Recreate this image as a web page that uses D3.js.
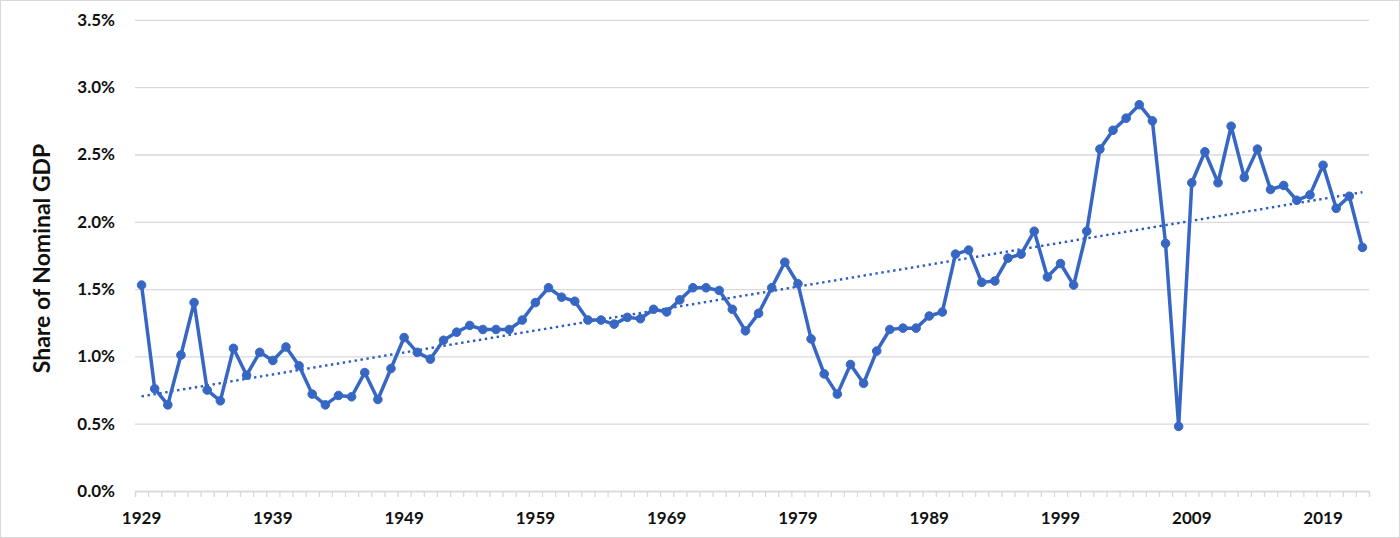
<!DOCTYPE html>
<html>
<head>
<meta charset="utf-8">
<script src="https://cdn.jsdelivr.net/npm/d3@7"></script>
<style>
  html, body { margin: 0; padding: 0; background: #fff; }
  svg { display: block; }
  text { font-family: Lato, "Noto Sans", sans-serif; font-weight: bold; fill: #111; }
</style>
</head>
<body>
<svg id="chart" width="1400" height="538"></svg>
<script>
const years = d3.range(1929, 2023);
const values = [
  1.53, 0.76, 0.64, 1.01, 1.40, 0.75, 0.67, 1.06, 0.86, 1.03,
  0.97, 1.07, 0.93, 0.72, 0.64, 0.71, 0.70, 0.88, 0.68, 0.91,
  1.14, 1.03, 0.98, 1.12, 1.18, 1.23, 1.20, 1.20, 1.20, 1.27,
  1.40, 1.51, 1.44, 1.41, 1.27, 1.27, 1.24, 1.29, 1.28, 1.35,
  1.33, 1.42, 1.51, 1.51, 1.49, 1.35, 1.19, 1.32, 1.51, 1.70,
  1.54, 1.13, 0.87, 0.72, 0.94, 0.80, 1.04, 1.20, 1.21, 1.21,
  1.30, 1.33, 1.76, 1.79, 1.55, 1.56, 1.73, 1.76, 1.93, 1.59,
  1.69, 1.53, 1.93, 2.54, 2.68, 2.77, 2.87, 2.75, 1.84, 0.48,
  2.29, 2.52, 2.29, 2.71, 2.33, 2.54, 2.24, 2.27, 2.16, 2.20,
  2.42, 2.10, 2.19, 1.81
];
const yTicks = [0, 0.5, 1.0, 1.5, 2.0, 2.5, 3.0, 3.5];
const labelYears = [1929, 1939, 1949, 1959, 1969, 1979, 1989, 1999, 2009, 2019];
const yTitle = "Share of Nominal GDP";

(function () {
const svg = d3.select("#chart");
const W = 1400, H = 538;
const pLeft = 135, pRight = 1369, pTop = 19.9, pBottom = 491;

// outer border
svg.append("rect").attr("x", 0.5).attr("y", 0.5).attr("width", W - 1).attr("height", H - 1)
  .attr("fill", "#fff").attr("stroke", "#d9d9d9").attr("stroke-width", 1);

const x = d3.scaleBand().domain(years).range([pLeft, pRight]).padding(0);
const xb = d3.scaleLinear().domain([0, years.length]).range([pLeft, pRight]);
const y = d3.scaleLinear().domain([0, 3.5]).range([pBottom, pTop]);

// gridlines
const grid = svg.append("g").attr("transform", `translate(${pLeft},0)`)
  .call(d3.axisLeft(y).tickValues(yTicks).tickSize(-(pRight - pLeft)).tickFormat(""));
grid.select(".domain").remove();
grid.selectAll("line").attr("stroke", "#d9d9d9").attr("stroke-width", 1.3);

// y labels
const ya = svg.append("g").attr("transform", `translate(${pLeft - 17},0)`)
  .call(d3.axisLeft(y).tickValues(yTicks).tickSize(0).tickFormat(d => d.toFixed(1) + "%"));
ya.select(".domain").remove();
ya.selectAll("text").attr("font-size", 17).attr("fill", "#111")
  .style("font-family", "Lato, 'Noto Sans', sans-serif").style("font-weight", "bold");

// x axis ticks (category boundaries)
const xa = svg.append("g").attr("transform", `translate(0,${pBottom})`)
  .call(d3.axisBottom(xb).tickValues(d3.range(0, years.length + 1)).tickSize(6).tickFormat(""));
xa.select(".domain").attr("stroke", "#d9d9d9").attr("stroke-width", 1.3);
xa.selectAll("line").attr("stroke", "#d9d9d9").attr("stroke-width", 1.3);

// x labels
svg.append("g").selectAll("text").data(labelYears).join("text")
  .attr("x", d => x(d) + x.bandwidth() / 2)
  .attr("y", 524)
  .attr("text-anchor", "middle")
  .attr("font-size", 17)
  .text(d => d);

// y title
svg.append("text")
  .attr("transform", `translate(50,${(pTop + pBottom) / 2 + 3}) rotate(-90)`)
  .attr("text-anchor", "middle")
  .attr("font-size", 23)
  .text(yTitle);

const cx = d => x(d) + x.bandwidth() / 2;

// linear trendline (least squares)
const n = years.length;
const mx = d3.mean(years), my = d3.mean(values);
let sxy = 0, sxx = 0;
years.forEach((yr, i) => { sxy += (yr - mx) * (values[i] - my); sxx += (yr - mx) * (yr - mx); });
const slope = sxy / sxx, intercept = my - slope * mx;
const trendYears = [years[0], years[n - 1]];
svg.append("path")
  .datum(trendYears)
  .attr("fill", "none")
  .attr("stroke", "#2a5bc2")
  .attr("stroke-width", 2.4)
  .attr("stroke-dasharray", "2.4,3.6")
  .attr("d", d3.line().x(d => cx(d)).y(d => y(intercept + slope * d)));

// main series
const data = years.map((yr, i) => ({ yr, v: values[i] }));
svg.append("path")
  .datum(data)
  .attr("fill", "none")
  .attr("stroke", "#3667c4")
  .attr("stroke-width", 3.5)
  .attr("stroke-linejoin", "round")
  .attr("d", d3.line().x(d => cx(d.yr)).y(d => y(d.v)));

svg.append("g").selectAll("circle").data(data).join("circle")
  .attr("cx", d => cx(d.yr))
  .attr("cy", d => y(d.v))
  .attr("r", 4.3)
  .attr("fill", "#3667c4")
  .attr("stroke", "#3a69c0")
  .attr("stroke-width", 1);
})();
</script>
</body>
</html>
